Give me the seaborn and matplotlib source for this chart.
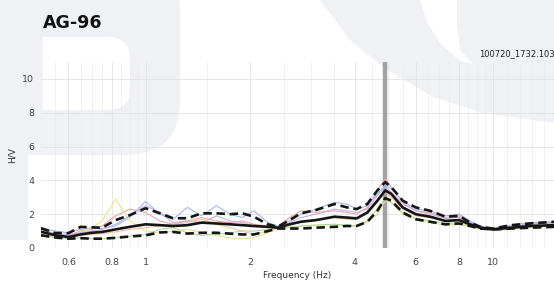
import numpy as np
import pandas as pd
import matplotlib
matplotlib.use("Agg")
import matplotlib.pyplot as plt
import seaborn as sns
from matplotlib.ticker import FixedLocator, NullFormatter, FixedFormatter
from matplotlib.patches import Polygon, Rectangle, FancyBboxPatch
from matplotlib.transforms import IdentityTransform

freq = [0.5, 0.55, 0.6, 0.65, 0.7, 0.75, 0.82, 0.9, 1.0, 1.1,
        1.2, 1.32, 1.45, 1.6, 1.75, 1.9, 2.05, 2.25, 2.4, 2.6,
        2.8, 3.1, 3.5, 3.8, 4.05, 4.35, 4.65, 4.9, 5.1, 5.5,
        6.0, 6.6, 7.3, 8.0, 8.6, 9.2, 10.0, 11.3, 12.8, 15.0]

hv_mean = [0.96, 0.75, 0.65, 0.8, 0.9, 0.95, 1.1, 1.25, 1.4, 1.35,
           1.3, 1.35, 1.5, 1.45, 1.4, 1.35, 1.3, 1.25, 1.2, 1.4,
           1.55, 1.65, 1.85, 1.8, 1.75, 2.1, 2.8, 3.4, 3.2, 2.4,
           2.0, 1.85, 1.6, 1.65, 1.4, 1.2, 1.1, 1.2, 1.3, 1.35]
hv_upper = [1.17, 0.88, 0.88, 1.25, 1.22, 1.2, 1.65, 1.94, 2.35, 2.05,
            1.76, 1.76, 2.05, 2.05, 2.0, 2.05, 1.85, 1.4, 1.25, 1.65,
            2.05, 2.25, 2.6, 2.4, 2.3, 2.6, 3.4, 3.9, 3.6, 2.8,
            2.4, 2.2, 1.85, 1.9, 1.5, 1.25, 1.15, 1.35, 1.45, 1.55]
hv_lower = [0.75, 0.62, 0.55, 0.58, 0.55, 0.55, 0.6, 0.68, 0.75, 0.92,
            0.95, 0.85, 0.9, 0.9, 0.85, 0.8, 0.8, 1.0, 1.15, 1.15,
            1.15, 1.2, 1.25, 1.3, 1.3, 1.55, 2.2, 2.95, 2.8, 2.1,
            1.7, 1.55, 1.4, 1.45, 1.3, 1.15, 1.1, 1.15, 1.2, 1.25]

win_pink = [1.1, 0.85, 0.75, 1.0, 1.1, 1.3, 1.9, 2.3, 2.1, 1.6,
            1.4, 1.6, 1.8, 1.6, 1.5, 1.6, 1.4, 1.3, 1.25, 1.8,
            2.2, 2.1, 2.2, 2.1, 2.0, 2.4, 3.4, 4.1, 3.6, 2.7,
            2.2, 2.1, 1.8, 1.9, 1.5, 1.25, 1.1, 1.25, 1.4, 1.5]
win_blue = [1.2, 1.0, 0.9, 1.1, 1.2, 1.15, 1.3, 1.8, 2.75, 2.0,
            1.7, 2.4, 1.9, 2.5, 2.0, 1.8, 2.2, 1.5, 1.3, 1.6,
            2.0, 2.3, 2.7, 2.6, 2.3, 2.5, 3.2, 3.7, 3.5, 2.8,
            2.3, 2.2, 1.9, 2.0, 1.6, 1.3, 1.15, 1.35, 1.5, 1.55]
win_yellow = [0.8, 0.7, 0.65, 0.9, 1.2, 1.6, 2.9, 1.6, 1.0, 0.9,
              1.0, 1.1, 0.9, 0.75, 0.6, 0.55, 0.6, 0.9, 1.2, 1.25,
              1.3, 1.35, 1.4, 1.3, 1.3, 1.5, 2.0, 2.8, 2.7, 2.0,
              1.7, 1.5, 1.35, 1.4, 1.25, 1.1, 1.05, 1.1, 1.2, 1.3]
win_green = [0.75, 0.62, 0.55, 0.6, 0.55, 0.55, 0.6, 0.7, 0.8, 1.1,
             1.2, 0.9, 0.75, 0.8, 0.9, 1.0, 1.0, 1.1, 1.15, 1.2,
             1.3, 1.35, 1.4, 1.35, 1.3, 1.6, 2.3, 2.9, 2.7, 2.1,
             1.75, 1.6, 1.45, 1.5, 1.3, 1.15, 1.1, 1.15, 1.25, 1.3]
win_purple = [1.0, 0.85, 0.8, 0.9, 1.0, 1.1, 1.4, 1.9, 2.5, 2.1,
              1.5, 1.6, 1.5, 1.9, 1.6, 1.5, 1.3, 1.3, 1.25, 1.5,
              1.8, 2.0, 2.3, 2.2, 2.1, 2.3, 3.1, 3.6, 3.3, 2.6,
              2.2, 2.0, 1.75, 1.8, 1.5, 1.25, 1.15, 1.3, 1.4, 1.5]
win_orange = [0.9, 0.75, 0.65, 0.75, 0.8, 0.85, 0.95, 1.1, 1.2, 1.3,
              1.4, 1.5, 1.7, 1.4, 1.2, 1.0, 0.8, 1.0, 1.2, 1.4,
              1.6, 1.7, 1.8, 1.7, 1.7, 2.0, 2.7, 3.3, 3.0, 2.3,
              1.9, 1.8, 1.6, 1.6, 1.35, 1.15, 1.1, 1.2, 1.3, 1.35]

peak_freq = 4.9
title = "AG-96"
file_label = "100720_1732.103"
x_major = [0.6, 0.8, 1, 2, 4, 6, 8, 10]
x_major_labels = ["0.6", "0.8", "1", "2", "4", "6", "8", "10"]
x_minor = [0.55, 0.65, 0.7, 0.75, 0.85, 0.9, 0.95, 1.5, 2.5, 3, 3.5, 4.5, 5, 5.5, 6.5, 7, 7.5,
           8.5, 9, 9.5, 11, 12, 13, 14]

sns.set_style("white")
plt.rcParams['font.family'] = ['DejaVu Sans']

names = ["pink", "blue", "yellow", "green", "purple", "orange"]
series = [win_pink, win_blue, win_yellow, win_green, win_purple, win_orange]
win_df = pd.DataFrame({
    "freq": freq * len(series),
    "hv": sum(series, []),
    "win": sum([[n] * len(freq) for n in names], []),
})
palette = {"pink": "#f2a3a8", "blue": "#a3b9e6", "yellow": "#ebe38e",
           "green": "#acd9a3", "purple": "#c7aee2", "orange": "#f1c598"}

W, H = 554, 282
fig = plt.figure(figsize=(W / 100, H / 100), dpi=100)

# faint background watermark (pixel coords, y from top)
wm = "#eff1f4"
px = IdentityTransform()
def add(p):
    p.set_transform(px)
    p.set_zorder(-5)
    fig.patches.append(p)
def pt(x, y):
    return (x, H - y)
add(FancyBboxPatch((0, H - 155), 180, 200, boxstyle="round,pad=0,rounding_size=55",
                   fc=wm, ec="none"))
add(Rectangle((0, H - 240), 28, 240, fc=wm, ec="none"))
add(Rectangle((0, H - 155), 70, 100, fc=wm, ec="none"))
add(FancyBboxPatch((43, H - 110), 87, 73, boxstyle="round,pad=0,rounding_size=22",
                   fc="white", ec="none"))
add(Rectangle((43, H - 110), 50, 73, fc="white", ec="none"))
add(Polygon([pt(320, 0), pt(350, 40), pt(387, 70), pt(433, 97), pt(483, 113),
             pt(554, 123), pt(554, 0)], closed=True, fc=wm, ec="none"))
add(Polygon([pt(420, 0), pt(427, 22), pt(440, 43), pt(460, 61), pt(473, 64),
             pt(460, 50), pt(457, 25), pt(457, 0)], closed=True, fc="white", ec="none"))

ax = fig.add_axes([0.074, 0.1206, 0.926, 0.6596])
ax.set_facecolor("none")

ax.axvline(peak_freq, color="#a3a3a3", lw=3.2, zorder=1)

sns.lineplot(data=win_df, x="freq", y="hv", hue="win", palette=palette, lw=0.8,
             legend=False, ax=ax, estimator=None, zorder=2)
sns.lineplot(x=freq, y=hv_mean, color="#151515", lw=1.9, ax=ax, zorder=4)
sns.lineplot(x=freq, y=hv_upper, color="#151515", lw=1.9, ax=ax, zorder=4)
sns.lineplot(x=freq, y=hv_lower, color="#151515", lw=1.9, ax=ax, zorder=4)
for l in ax.lines[-2:]:
    l.set_dashes([3.2, 1.8])

ax.set_xscale("log")
ax.set_xlim(0.5, 15)
ax.set_ylim(0, 11)
ax.xaxis.set_major_locator(FixedLocator(x_major))
ax.xaxis.set_major_formatter(FixedFormatter(x_major_labels))
ax.xaxis.set_minor_locator(FixedLocator(x_minor))
ax.xaxis.set_minor_formatter(NullFormatter())
ax.set_yticks([0, 2, 4, 6, 8, 10])
ax.set_yticks(np.arange(0, 11.01, 0.4), minor=True)

ax.grid(True, which="major", color="#e2e2e2", lw=0.6)
ax.grid(True, which="minor", axis="x", color="#ececec", lw=0.5)
for s in ax.spines.values():
    s.set_visible(False)
ax.tick_params(which="both", direction="out", colors="#8a8a8a", labelcolor="#444444",
               labelsize=6.8, length=3, width=0.6, pad=2)
ax.tick_params(axis="x", which="major", pad=4)
ax.tick_params(which="minor", length=2.5)

ax.set_xlabel("Frequency (Hz)", fontsize=6.5, color="#333333", labelpad=3)
ax.set_ylabel("H/V", fontsize=6.5, color="#333333", labelpad=4)

fig.text(0.077, 0.92, title, fontsize=12.5, fontweight="bold", color="#111111",
         ha="left", va="center")
fig.text(0.864, 0.81, file_label, fontsize=6, color="#222222", ha="left", va="center")

fig.savefig("out.png", dpi=100)
